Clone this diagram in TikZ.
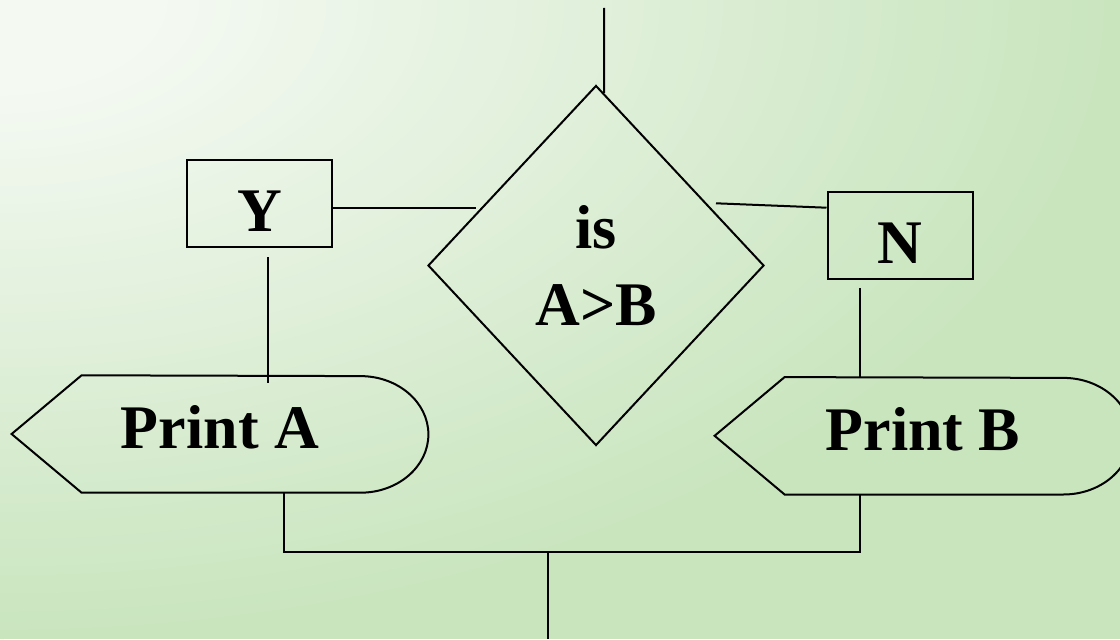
\documentclass[tikz,border=0pt]{standalone}
\usepackage{fontspec}
\setmainfont{Liberation Serif}
\usetikzlibrary{calc,shapes.geometric}
\definecolor{bglight}{RGB}{244,249,242}
\definecolor{bggreen}{RGB}{201,229,190}
\newcommand{\flowfont}{\bfseries\fontsize{31}{38.4}\selectfont}
\tikzset{
  wire/.style={black,line width=1pt},
  decision/.style={diamond,draw=black,line width=1pt,inner sep=0pt,
                   minimum width=168pt,minimum height=180pt,align=center,font=\flowfont},
  answer/.style={rectangle,draw=black,line width=1pt,inner sep=0pt,minimum width=72.5pt,
                 text height=35.75pt,text depth=7.75pt,font=\flowfont},
  display/.style={rectangle,inner sep=0pt,minimum width=208pt,
                  text height=36.3pt,text depth=22pt,font=\flowfont},
}
% outline of a display box: pointed left end, rounded right end
\newcommand{\displayoutline}[1]{%
  \draw[wire] ([xshift=35pt]#1.north west) -- (#1.west) -- ([xshift=35pt]#1.south west)
    -- ([xshift=-34pt]#1.south east)
    arc[start angle=-90,end angle=90,x radius=34pt,y radius=29.15pt] -- cycle;}

\begin{document}
\begin{tikzpicture}[x=0.5pt,y=0.5pt]
  \useasboundingbox (0,0) rectangle (1120,639);
  \clip (0,0) rectangle (1120,639);
  % background: pale in the upper left corner, green towards the edges
  \fill[bggreen] (0,0) rectangle (1120,639);
  \foreach \k in {0,...,60}{
    \pgfmathsetmacro{\d}{1-0.85*\k/60}
    \pgfmathsetmacro{\t}{100-100*\k/60}
    \fill[bggreen!\t!bglight] (0,639) ellipse [x radius=\d*560pt,y radius=\d*319.5pt];
  }

  \node[decision] (DEC) at (596,373.5) {is\\A>B};
  \node[answer] (YES) at (259.8,435.3) {Y};
  \node[answer] (NO) at (900,403.7) {N};
  \node[display] (PRA) at (220,205) {Print A};
  \node[display] (PRB) at (923,203.2) {Print B};
  \displayoutline{PRA}
  \displayoutline{PRB}

  % entry into the test
  \coordinate (IN) at (604,631);
  \draw[wire] (IN) -- ($(DEC.north)!0.048!(DEC.east)$);

  % yes branch
  \coordinate (YL) at (476,431);
  \draw[wire] (YES.east |- YL) -- (YL);
  \coordinate (YD) at (267.5,382);
  \draw[wire] (YD) -- ([yshift=-4pt]YD |- PRA.north);

  % no branch
  \coordinate (NL) at (716,435.7);
  \draw[wire] (NL) -- ([yshift=13.8pt]NO.west);
  \coordinate (ND) at (860,350.7);
  \draw[wire] (ND) -- (ND |- PRB.north);

  % both branches meet again
  \coordinate (JOIN) at (548,87);
  \coordinate (OUT) at (548,0);
  \draw[wire] ([xshift=31.75pt]PRA.south) |- (JOIN) -| ([xshift=-31.5pt]PRB.south);
  \draw[wire] (JOIN) -- (OUT);
\end{tikzpicture}
\end{document}
